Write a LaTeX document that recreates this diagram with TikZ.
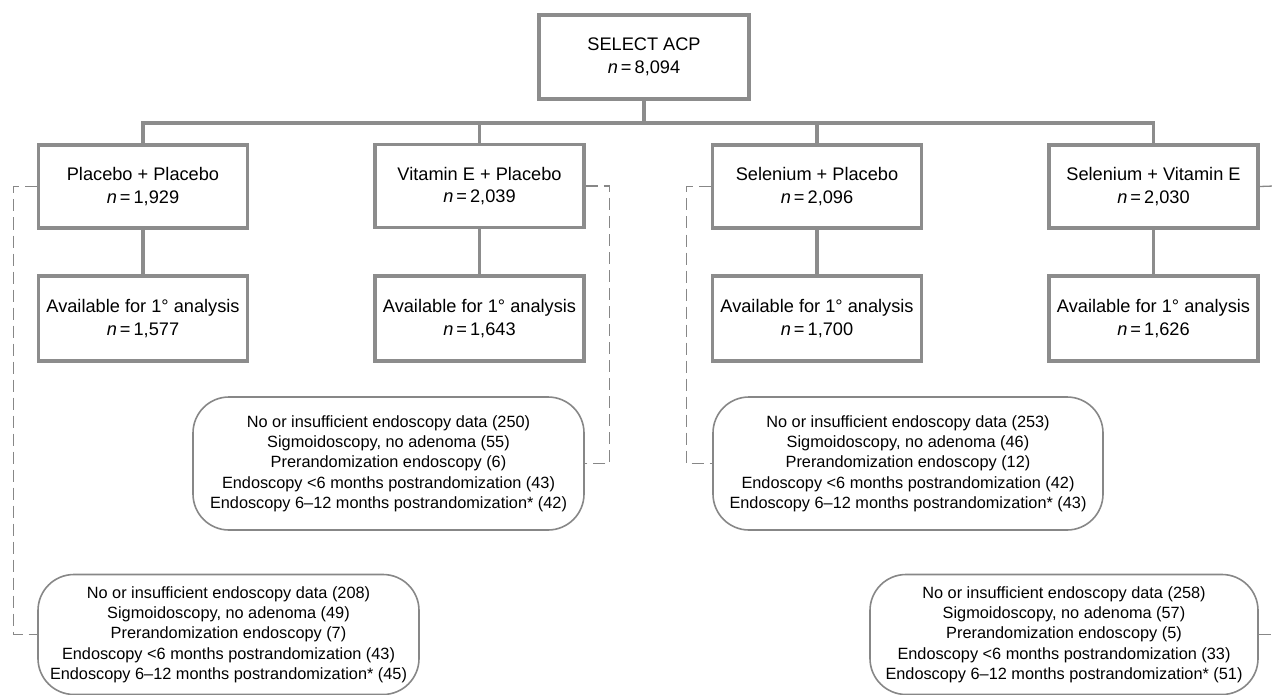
\documentclass[tikz,border=0pt]{standalone}
\usepackage{fontspec}
\setmainfont{Liberation Sans}
\begin{document}
\begin{tikzpicture}[x=1pt,y=-1pt,
  gbox/.style={draw=boxgray, line width=3.6pt, fill=white, minimum width=209pt, minimum height=83pt, inner sep=0pt, align=center, font=\fontsize{18.2}{22.5}\selectfont},
  rbox/.style={draw=rgray, line width=1.6pt, rounded corners=36pt, fill=white, inner sep=0pt, align=center, font=\fontsize{16.3}{20.3}\selectfont},
  bus/.style={draw=boxgray, line width=3.6pt},
  dsh/.style={draw=rgray, line width=1.3pt, dash pattern=on 12pt off 6pt}
]
\definecolor{boxgray}{RGB}{140,140,140}
\definecolor{rgray}{RGB}{135,135,135}
\useasboundingbox (0,0) rectangle (1274,695);

\node[gbox, minimum width=210pt, minimum height=84pt] (top) at (644,57) {SELECT ACP\\\textit{n}\,=\,8,094};

\node[gbox] (a1) at (143,186.5) {Placebo + Placebo\\\textit{n}\,=\,1,929};
\node[gbox] (a2) at (479.5,186) {Vitamin E + Placebo\\\textit{n}\,=\,2,039};
\node[gbox] (a3) at (817,186.5) {Selenium + Placebo\\\textit{n}\,=\,2,096};
\node[gbox] (a4) at (1153.5,186.5) {Selenium + Vitamin E\\\textit{n}\,=\,2,030};

\node[gbox, minimum height=85pt] (b1) at (143,318.5) {Available for 1\textdegree{} analysis\\\textit{n}\,=\,1,577};
\node[gbox, minimum height=85pt] (b2) at (479.5,318.5) {Available for 1\textdegree{} analysis\\\textit{n}\,=\,1,643};
\node[gbox, minimum height=85pt] (b3) at (817,318.5) {Available for 1\textdegree{} analysis\\\textit{n}\,=\,1,700};
\node[gbox, minimum height=85pt] (b4) at (1153.5,318.5) {Available for 1\textdegree{} analysis\\\textit{n}\,=\,1,626};

\node[rbox, minimum width=391pt, minimum height=133pt] (r2) at (388.5,463.5) {No or insufficient endoscopy data (250)\\Sigmoidoscopy, no adenoma (55)\\Prerandomization endoscopy (6)\\Endoscopy <6 months postrandomization (43)\\Endoscopy 6--12 months postrandomization* (42)};
\node[rbox, minimum width=390pt, minimum height=133pt] (r3) at (908,463.5) {No or insufficient endoscopy data (253)\\Sigmoidoscopy, no adenoma (46)\\Prerandomization endoscopy (12)\\Endoscopy <6 months postrandomization (42)\\Endoscopy 6--12 months postrandomization* (43)};
\node[rbox, minimum width=381pt, minimum height=120pt] (r1) at (228.5,634.5) {No or insufficient endoscopy data (208)\\Sigmoidoscopy, no adenoma (49)\\Prerandomization endoscopy (7)\\Endoscopy <6 months postrandomization (43)\\Endoscopy 6--12 months postrandomization* (45)};
\node[rbox, minimum width=388pt, minimum height=120pt] (r4) at (1064,634.5) {No or insufficient endoscopy data (258)\\Sigmoidoscopy, no adenoma (57)\\Prerandomization endoscopy (5)\\Endoscopy <6 months postrandomization (33)\\Endoscopy 6--12 months postrandomization* (51)};

\coordinate (busL) at (143,123);
\coordinate (busR) at (1153.5,123);
\coordinate (busM) at (644,123);
\coordinate (e1) at (1274,186);
\coordinate (e2) at (1274,634.5);

\draw[bus] (top.south) -- (busM);
\draw[bus, line cap=rect] (busL) -- (busR);
\draw[bus] (busL) -- (a1.north);
\draw[bus] (a2.north |- busM) -- (a2.north);
\draw[bus] (a3.north |- busM) -- (a3.north);
\draw[bus] (busR) -- (a4.north);
\draw[bus] (a1.south) -- (b1.north);
\draw[bus] (a2.south) -- (b2.north);
\draw[bus] (a3.south) -- (b3.north);
\draw[bus] (a4.south) -- (b4.north);

\draw[dsh] (a1.west) -- ++(-23,0) |- (r1.west);
\draw[dsh] (a2.east) -- ++(24,0) |- (r2.east);
\draw[dsh] (a3.west) -- ++(-24,0) |- (r3.west);
\draw[dsh] (a4.east) -- (e1);
\draw[dsh] (r4.east) -- (e2);
\end{tikzpicture}
\end{document}
